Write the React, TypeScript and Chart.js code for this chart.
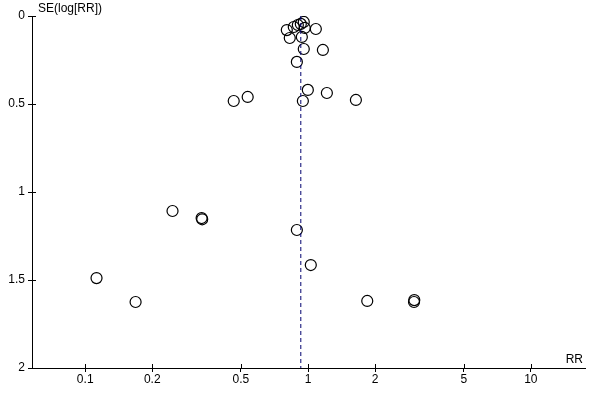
import { useEffect, useRef } from "react";
import { Chart, registerables } from "chart.js";

Chart.register(...registerables);

// Study estimates: risk ratio and its standard error of log(RR)
const rrValues = [
  0.803, 0.863, 0.9, 0.928, 0.957, 0.967, 1.084, 0.828, 0.938,
  0.957, 1.166, 0.891,
  0.464, 0.536, 0.998, 0.948, 1.215, 1.64,
  0.2465, 0.333, 0.335, 0.1124, 0.1683,
  0.891, 1.029,
  1.844, 2.998, 2.99,
];
const seValues = [
  0.08, 0.0625, 0.051, 0.045, 0.034, 0.068, 0.074, 0.125, 0.119,
  0.1875, 0.193, 0.261,
  0.483, 0.46, 0.42, 0.483, 0.4375, 0.477,
  1.108, 1.148, 1.155, 1.489, 1.625,
  1.216, 1.415,
  1.619, 1.614, 1.625,
];
const pooledRR = 0.928;
const seRange = [0, 2];

const xTickValues = [0.1, 0.2, 0.5, 1, 2, 5, 10];
const xTickLabels = ["0.1", "0.2", "0.5", "1", "2", "5", "10"];
const yTickValues = [0, 0.5, 1, 1.5, 2];
const yTickLabels = ["0", "0.5", "1", "1.5", "2"];
const xMin = 0.0577;
const xMax = 17.5;
const yTitle = "SE(log[RR])";
const xTitle = "RR";

const FONT = "'Liberation Sans', Arial, sans-serif";

const decorPlugin = {
  id: "decor",
  afterDraw(chart: any) {
    const ctx = chart.ctx;
    const xs = chart.scales.x;
    const ys = chart.scales.y;
    const area = chart.chartArea;
    ctx.save();
    ctx.strokeStyle = "#000";
    ctx.lineWidth = 1;
    ctx.beginPath();
    xTickValues.forEach((v) => {
      const px = Math.round(xs.getPixelForValue(v)) + 0.5;
      ctx.moveTo(px, area.bottom);
      ctx.lineTo(px, area.bottom - 4);
    });
    yTickValues.forEach((v) => {
      const py = Math.round(ys.getPixelForValue(v)) + 0.5;
      ctx.moveTo(area.left, py);
      ctx.lineTo(area.left + 4, py);
    });
    ctx.stroke();
    ctx.fillStyle = "#000";
    ctx.font = "12px " + FONT;
    ctx.textBaseline = "middle";
    ctx.textAlign = "left";
    ctx.fillText(yTitle, area.left + 6, area.top - 7);
    ctx.textAlign = "right";
    ctx.fillText(xTitle, area.right - 2, area.bottom - 8);
    ctx.restore();
  },
};

export default function App() {
  const ref = useRef<HTMLCanvasElement | null>(null);

  useEffect(() => {
    if (!ref.current) return;
    const points = rrValues.map((x, i) => ({ x, y: seValues[i] }));
    const chart = new Chart(ref.current, {
      type: "scatter",
      data: {
        datasets: [
          {
            data: [
              { x: pooledRR, y: seRange[0] },
              { x: pooledRR, y: seRange[1] },
            ],
            showLine: true,
            borderColor: "#000070",
            borderWidth: 1,
            borderDash: [4, 3],
            pointRadius: 0,
            pointHoverRadius: 0,
          },
          {
            data: points,
            pointRadius: 5.5,
            pointHoverRadius: 5.5,
            pointBorderColor: "#000",
            pointBackgroundColor: "rgba(255,255,255,0)",
            pointBorderWidth: 1.2,
            showLine: false,
          },
        ],
      },
      options: {
        animation: false,
        responsive: false,
        maintainAspectRatio: false,
        events: [],
        layout: { padding: { top: 16, right: 15, left: 0, bottom: 0 } },
        plugins: {
          legend: { display: false },
          tooltip: { enabled: false },
          title: { display: false },
        },
        scales: {
          x: {
            type: "logarithmic",
            min: xMin,
            max: xMax,
            afterBuildTicks: (s: any) => {
              s.ticks = xTickValues.map((v) => ({ value: v }));
            },
            afterFit: (s: any) => {
              s.height = 32;
            },
            ticks: {
              autoSkip: false,
              maxRotation: 0,
              padding: 0,
              color: "#000",
              font: { family: FONT, size: 12 },
              callback: (v: any) => {
                const i = xTickValues.indexOf(Number(v));
                return i >= 0 ? xTickLabels[i] : "";
              },
            },
            grid: {
              drawOnChartArea: false,
              drawTicks: true,
              tickLength: 4,
              color: "#000",
            },
            border: { display: true, color: "#000", width: 1 },
          },
          y: {
            type: "linear",
            reverse: true,
            min: seRange[0],
            max: seRange[1],
            afterBuildTicks: (s: any) => {
              s.ticks = yTickValues.map((v) => ({ value: v }));
            },
            afterFit: (s: any) => {
              s.width = 32;
            },
            ticks: {
              autoSkip: false,
              padding: 3,
              color: "#000",
              font: { family: FONT, size: 12 },
              callback: (v: any) => {
                const i = yTickValues.indexOf(Number(v));
                return i >= 0 ? yTickLabels[i] : "";
              },
            },
            grid: {
              drawOnChartArea: false,
              drawTicks: true,
              tickLength: 4,
              color: "#000",
            },
            border: { display: true, color: "#000", width: 1 },
          },
        },
      },
      plugins: [decorPlugin],
    });
    return () => chart.destroy();
  }, []);

  return (
    <div style={{ position: "fixed", left: 0, top: 0, width: 600, height: 400, background: "#fff" }}>
      <canvas ref={ref} width={600} height={400} style={{ width: 600, height: 400, display: "block" }} />
    </div>
  );
}
